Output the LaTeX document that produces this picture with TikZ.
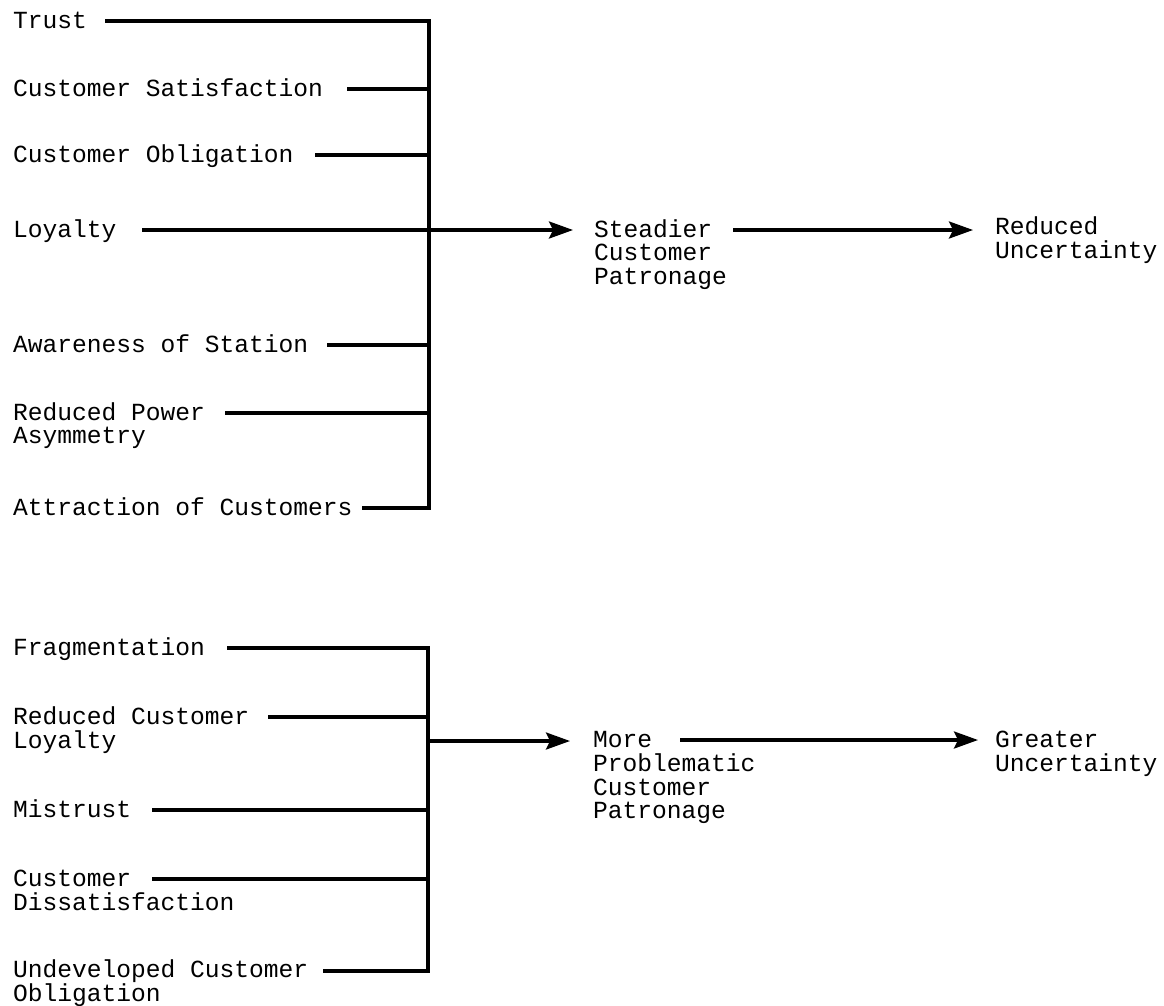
\documentclass[tikz,border=0pt]{standalone}
\usepackage{fontspec}
\setmainfont{Liberation Mono}
\usetikzlibrary{arrows.meta}
\newcommand\mlines[1]{\begin{tabular}[t]{@{}l@{}}#1\end{tabular}}
\tikzset{
  lbl/.style={anchor=base west, inner sep=0pt, outer sep=0pt, font=\fontsize{24.6}{23.5}\selectfont},
  wire/.style={line width=3.2pt, line join=miter},
  arr/.style={wire, -{Stealth[length=24pt,width=17pt,inset=4pt]}},
}
\begin{document}
\begin{tikzpicture}[x=1pt,y=-1pt]
\useasboundingbox (0,0) rectangle (1164,1005);
% ---------- top group ----------
\node[lbl] (trust) at (13,28) {Trust};
\node[lbl] (csat)  at (13,96) {Customer Satisfaction};
\node[lbl] (cobl)  at (13,162) {Customer Obligation};
\node[lbl] (loy)   at (13,237) {Loyalty};
\node[lbl] (aware) at (13,352) {Awareness of Station};
\node[lbl] (rpow)  at (13,420) {\mlines{Reduced Power\\Asymmetry}};
\node[lbl] (attr)  at (13,515) {Attraction of Customers};
\node[lbl] (stead) at (594,237) {\mlines{Steadier\\Customer\\Patronage}};
\node[lbl] (redu)  at (995,234) {\mlines{Reduced\\Uncertainty}};

\coordinate (t1) at (105,21);
\coordinate (t2) at (347,89);
\coordinate (t3) at (315,155);
\coordinate (t4) at (142,230);
\coordinate (t5) at (327,345);
\coordinate (t6) at (225,413);
\coordinate (t7) at (362,508);
\coordinate (tbus) at (429,0);
\coordinate (tin) at (573,230);
\coordinate (tout) at (733,230);
\coordinate (rin) at (973,230);

\draw[wire] (t1) -- (t1 -| tbus) -- (t7 -| tbus) -- (t7);
\draw[wire] (t2) -- (t2 -| tbus);
\draw[wire] (t3) -- (t3 -| tbus);
\draw[wire] (t5) -- (t5 -| tbus);
\draw[wire] (t6) -- (t6 -| tbus);
\draw[arr] (t4) -- (tin);
\draw[arr] (tout) -- (rin);

% ---------- bottom group ----------
\node[lbl] (frag)  at (13,655) {Fragmentation};
\node[lbl] (rcl)   at (13,724) {\mlines{Reduced Customer\\Loyalty}};
\node[lbl] (mis)   at (13,817) {Mistrust};
\node[lbl] (cdis)  at (13,886) {\mlines{Customer\\Dissatisfaction}};
\node[lbl, font=\fontsize{24.6}{22}\selectfont] (undev) at (13,977) {\mlines{Undeveloped Customer\\Obligation}};
\node[lbl] (more)  at (593,747) {\mlines{More\\Problematic\\Customer\\Patronage}};
\node[lbl] (great) at (995,747) {\mlines{Greater\\Uncertainty}};

\coordinate (b1) at (227,648);
\coordinate (b2) at (268,717);
\coordinate (b3) at (152,810);
\coordinate (b4) at (152,879);
\coordinate (b5) at (323,971);
\coordinate (bbus) at (428,0);
\coordinate (bj) at (428,741);
\coordinate (bin) at (570,741);
\coordinate (bout) at (680,740);
\coordinate (gin) at (978,740);

\draw[wire] (b1) -- (b1 -| bbus) -- (b5 -| bbus) -- (b5);
\draw[wire] (b2) -- (b2 -| bbus);
\draw[wire] (b3) -- (b3 -| bbus);
\draw[wire] (b4) -- (b4 -| bbus);
\draw[arr] (bj) -- (bin);
\draw[arr] (bout) -- (gin);
\end{tikzpicture}
\end{document}
